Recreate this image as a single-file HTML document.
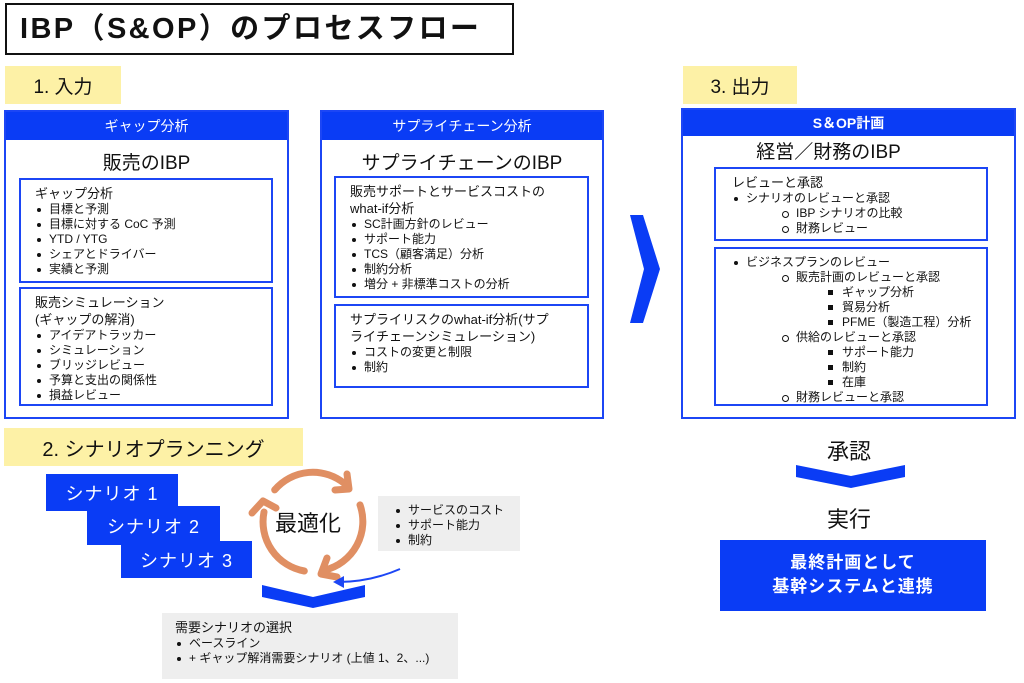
<!DOCTYPE html>
<html><head><meta charset="utf-8"><style>
*{margin:0;padding:0;box-sizing:border-box}
body{width:1024px;height:683px;background:#fff;position:relative;overflow:hidden;font-family:"Liberation Sans","Noto Sans CJK JP",sans-serif;color:#111}
.a{position:absolute}
.yl{background:#fdf1a6;font-size:19px;display:flex;align-items:center;justify-content:center}
.panel{border:2px solid #1c46f5;background:#fff}
.hd{background:#0a3cf5;color:#fff;font-size:14px;text-align:center;height:28px;line-height:28px}
.ttl{font-size:19px;text-align:center}
.box{border:2px solid #1c46f5;font-size:12px;line-height:15px;padding:5px 0 0 14px}
.box .h{font-size:13px;line-height:17px}
.li{position:relative;padding-left:14px}
.li:before{content:"";position:absolute;left:2px;top:6px;width:4px;height:4px;border-radius:50%;background:#111}
.l2{position:relative;padding-left:64px}
.l2:before{content:"";position:absolute;left:50px;top:5px;width:5px;height:5px;border-radius:50%;border:1px solid #111}
.l3{position:relative;padding-left:110px}
.l3:before{content:"";position:absolute;left:96px;top:5px;width:5px;height:5px;background:#111}
.sc{background:#0a3cf5;color:#fff;font-size:18px;display:flex;align-items:center;justify-content:center;letter-spacing:1px}
.gray{background:#eeeeee;font-size:12px;line-height:15px}
</style></head><body>

<div class="a" style="left:5px;top:3px;width:509px;height:52px;border:2px solid #111;font-size:29px;font-weight:bold;line-height:48px;padding-left:13px;letter-spacing:2.4px">IBP（S&amp;OP）のプロセスフロー</div>

<div class="a yl" style="left:5px;top:66px;width:116px;height:38px">1. 入力</div>
<div class="a yl" style="left:683px;top:66px;width:114px;height:38px">3. 出力</div>

<!-- Panel 1 -->
<div class="a panel" style="left:4px;top:110px;width:285px;height:309px">
 <div class="hd">ギャップ分析</div>
 <div class="ttl" style="margin-top:8px">販売のIBP</div>
</div>
<div class="a box" style="left:19px;top:178px;width:254px;height:105px">
 <div class="h">ギャップ分析</div>
 <div class="li">目標と予測</div>
 <div class="li">目標に対する CoC 予測</div>
 <div class="li">YTD / YTG</div>
 <div class="li">シェアとドライバー</div>
 <div class="li">実績と予測</div>
</div>
<div class="a box" style="left:19px;top:287px;width:254px;height:119px">
 <div class="h">販売シミュレーション</div>
 <div class="h">(ギャップの解消)</div>
 <div class="li">アイデアトラッカー</div>
 <div class="li">シミュレーション</div>
 <div class="li">ブリッジレビュー</div>
 <div class="li">予算と支出の関係性</div>
 <div class="li">損益レビュー</div>
</div>

<!-- Panel 2 -->
<div class="a panel" style="left:320px;top:110px;width:284px;height:309px">
 <div class="hd">サプライチェーン分析</div>
 <div class="ttl" style="margin-top:8px">サプライチェーンのIBP</div>
</div>
<div class="a box" style="left:334px;top:176px;width:255px;height:122px">
 <div class="h">販売サポートとサービスコストの</div>
 <div class="h">what-if分析</div>
 <div class="li">SC計画方針のレビュー</div>
 <div class="li">サポート能力</div>
 <div class="li">TCS（顧客満足）分析</div>
 <div class="li">制約分析</div>
 <div class="li">増分 + 非標準コストの分析</div>
</div>
<div class="a box" style="left:334px;top:304px;width:255px;height:84px">
 <div class="h">サプライリスクのwhat-if分析(サプ</div>
 <div class="h">ライチェーンシミュレーション)</div>
 <div class="li">コストの変更と制限</div>
 <div class="li">制約</div>
</div>

<svg class="a" style="left:0;top:0" width="1024" height="683">
 <polygon points="630,215 643,215 660,269 643,323 630,323 644,269" fill="#0a3cf5"/>
 <polygon points="262,585 313,597 365,585 365,597 313,608 262,597" fill="#0a3cf5"/>
 <polygon points="796,465 851,476 905,465 905,477 851,488 796,477" fill="#0a3cf5"/>
 <g fill="none" stroke="#e08f63" stroke-width="7" stroke-linecap="round" stroke-linejoin="round">
  <path d="M274.7,489.9 A50,50 0 0 1 345,484"/>
  <polyline points="347,474 349,489 335,490"/>
  <path d="M360,504.9 A50,50 0 0 1 325,570"/>
  <polyline points="327,558 321,574 337,577"/>
  <path d="M304.3,571 A50,50 0 0 1 264,512"/>
  <polyline points="252,513 263,501 276,508"/>
 </g>
 <path d="M400,569 Q370,582 338,582" fill="none" stroke="#1c46f5" stroke-width="2"/>
 <polygon points="333,582 344,576 344,588" fill="#1c46f5"/>
</svg>
<div class="a" style="left:275px;top:506px;font-size:22px">最適化</div>

<!-- Panel 3 -->
<div class="a panel" style="left:681px;top:108px;width:335px;height:311px">
 <div class="hd" style="height:26px;line-height:26px;font-weight:bold">S＆OP計画</div>
 <div class="ttl" style="margin-top:6px;margin-right:40px;line-height:22px">経営／財務のIBP</div>
</div>
<div class="a box" style="left:714px;top:167px;width:274px;height:74px;padding-left:16px">
 <div class="h">レビューと承認</div>
 <div class="li">シナリオのレビューと承認</div>
 <div class="l2">IBP シナリオの比較</div>
 <div class="l2">財務レビュー</div>
</div>
<div class="a box" style="left:714px;top:247px;width:274px;height:159px;padding-left:16px;padding-top:6px">
 <div class="li">ビジネスプランのレビュー</div>
 <div class="l2">販売計画のレビューと承認</div>
 <div class="l3">ギャップ分析</div>
 <div class="l3">貿易分析</div>
 <div class="l3">PFME（製造工程）分析</div>
 <div class="l2">供給のレビューと承認</div>
 <div class="l3">サポート能力</div>
 <div class="l3">制約</div>
 <div class="l3">在庫</div>
 <div class="l2">財務レビューと承認</div>
</div>

<div class="a yl" style="left:4px;top:428px;width:299px;height:38px;font-size:20px">2. シナリオプランニング</div>
<div class="a sc" style="left:46px;top:474px;width:132px;height:37px">シナリオ 1</div>
<div class="a sc" style="left:87px;top:506px;width:133px;height:39px">シナリオ 2</div>
<div class="a sc" style="left:121px;top:541px;width:131px;height:37px">シナリオ 3</div>

<div class="a gray" style="left:378px;top:496px;width:142px;height:55px;padding:7px 0 0 16px">
 <div class="li">サービスのコスト</div>
 <div class="li">サポート能力</div>
 <div class="li">制約</div>
</div>
<div class="a gray" style="left:162px;top:613px;width:296px;height:66px;padding:7px 0 0 13px">
 <div style="font-size:13px;line-height:16px">需要シナリオの選択</div>
 <div class="li">ベースライン</div>
 <div class="li">+ ギャップ解消需要シナリオ (上値 1、2、...)</div>
</div>

<div class="a" style="left:827px;top:434px;font-size:22px">承認</div>
<div class="a" style="left:827px;top:502px;font-size:22px">実行</div>
<div class="a" style="left:720px;top:540px;width:266px;height:71px;background:#0a3cf5;color:#fff;font-weight:bold;font-size:17px;line-height:24px;text-align:center;padding-top:11px;letter-spacing:1px">最終計画として<br>基幹システムと連携</div>
</body></html>
